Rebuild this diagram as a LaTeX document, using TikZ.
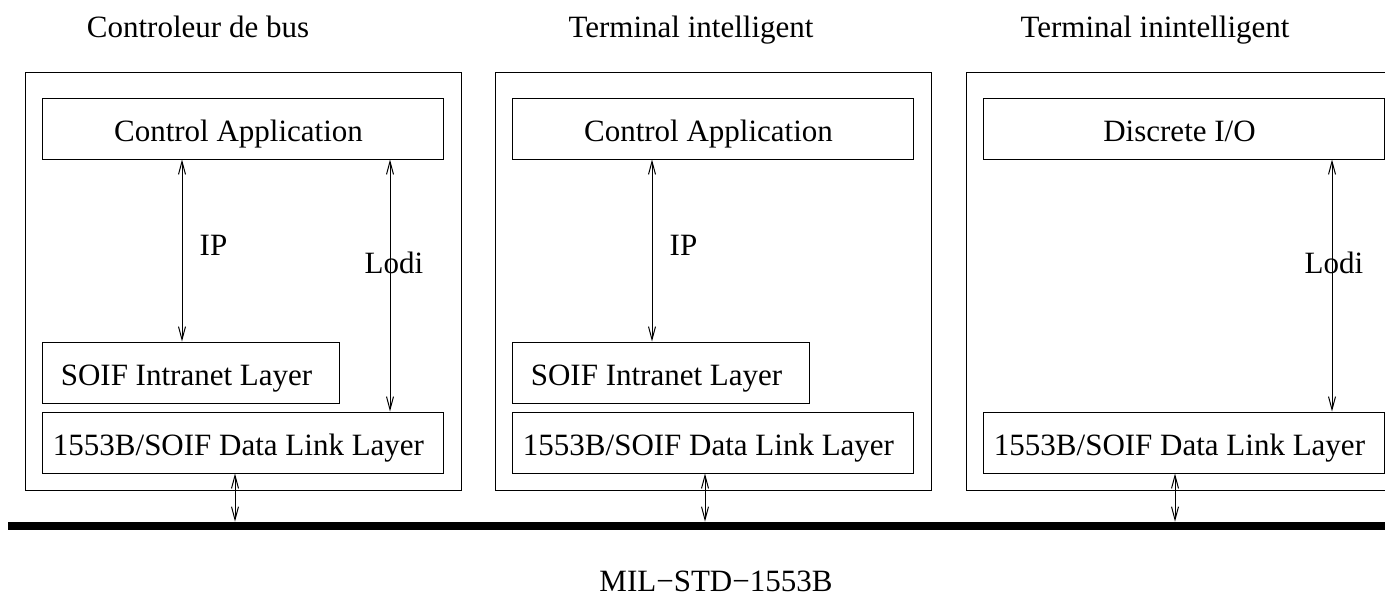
\documentclass[tikz,border=0pt]{standalone}
\usepackage{fontspec}
\setmainfont{Liberation Serif}
\usetikzlibrary{arrows.meta}
\begin{document}
\begin{tikzpicture}[x=0.5pt,y=-0.5pt,
  every node/.style={font=\fontsize{15.5}{18}\selectfont},
  outer/.style={draw, line width=0.5pt, minimum width=218pt, minimum height=209pt, inner sep=0pt},
  layer/.style={draw, line width=0.5pt, minimum height=30.5pt, inner sep=0pt, text height=13pt, text depth=0pt, execute at end node={\hspace*{4pt}}},
  wide/.style={layer, minimum width=200.5pt},
  narrow/.style={layer, minimum width=148.5pt},
  arr/.style={{Straight Barb[length=6.5pt,width=3.5pt]}-{Straight Barb[length=6.5pt,width=3.5pt]}, line width=0.5pt},
  lbl/.style={anchor=base, inner sep=0pt}]
\useasboundingbox (0,0) rectangle (1385,596);
\clip (0,0) rectangle (1385,596);

% titles
\node[lbl] (t1) at (198,37) {Controleur de bus};
\node[lbl] (t2) at (691,37) {Terminal intelligent};
\node[lbl] (t3) at (1155,37) {Terminal inintelligent};
\node[lbl] (mil) at (716,591) {MIL−STD−1553B};

% bus
\node[fill=black, inner sep=0pt, minimum width=696pt, minimum height=4pt] (bus) at (704,526) {};

% box 1
\node[outer] (o1) at (243,281) {};
\node[wide] (ca1) at (242.5,128.5) {Control Application};
\node[narrow] (si1) at (190.5,372.5) {SOIF Intranet Layer};
\node[wide] (dl1) at (242.5,442.5) {1553B/SOIF Data Link Layer};

% box 2
\node[outer] (o2) at (713,281) {};
\node[wide] (ca2) at (712.5,128.5) {Control Application};
\node[narrow] (si2) at (660.5,372.5) {SOIF Intranet Layer};
\node[wide] (dl2) at (712.5,442.5) {1553B/SOIF Data Link Layer};

% box 3
\node[outer] (o3) at (1184,281) {};
\node[wide] (ca3) at (1183.5,128.5) {Discrete I/O};
\node[wide] (dl3) at (1183.5,442.5) {1553B/SOIF Data Link Layer};

% arrow x positions
\coordinate (ip1) at (182,0);
\coordinate (lo1) at (390,0);
\coordinate (b1) at (235,0);
\coordinate (ip2) at (652,0);
\coordinate (b2) at (705,0);
\coordinate (lo3) at (1332,0);
\coordinate (b3) at (1175,0);

\draw[arr] (ip1 |- ca1.south) -- (ip1 |- si1.north);
\draw[arr] (lo1 |- ca1.south) -- (lo1 |- dl1.north);
\draw[arr] (b1 |- dl1.south) -- (b1 |- bus.north);
\draw[arr] (ip2 |- ca2.south) -- (ip2 |- si2.north);
\draw[arr] (b2 |- dl2.south) -- (b2 |- bus.north);
\draw[arr] (lo3 |- ca3.south) -- (lo3 |- dl3.north);
\draw[arr] (b3 |- dl3.south) -- (b3 |- bus.north);

% labels
\node[lbl] (lip1) at (213.5,255) {IP};
\node[lbl] (llo1) at (394,273) {Lodi};
\node[lbl] (lip2) at (683.5,255) {IP};
\node[lbl] (llo3) at (1334,273) {Lodi};
\end{tikzpicture}
\end{document}
